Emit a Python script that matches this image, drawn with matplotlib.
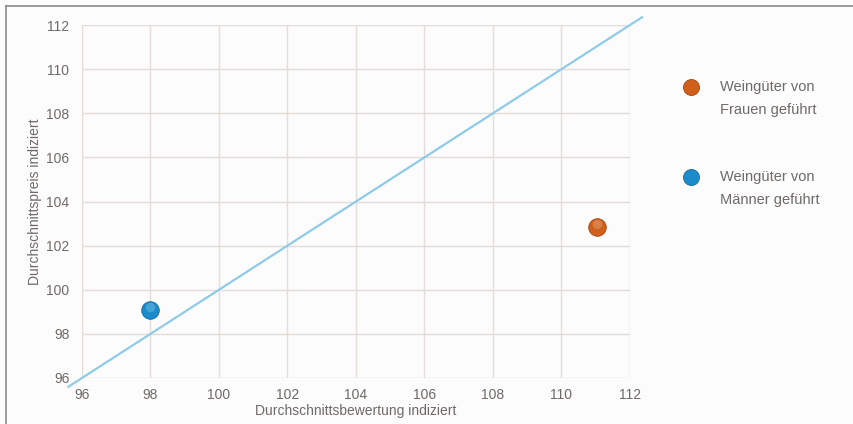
import numpy as np
import matplotlib.pyplot as plt
from matplotlib.lines import Line2D

# Durchschnittswerte (indiziert)
gruppen = ['Weingüter von\nFrauen geführt', 'Weingüter von\nMänner geführt']
bewertung = [111.05, 98.0]
preis = [102.85, 99.1]
farben = ['#d0601c', '#1a8ccc']
kanten = ['#a4440f', '#116aa0']

# Winkelhalbierende Preis = Bewertung
diag = [95.6, 112.35]

ticks = [96, 98, 100, 102, 104, 106, 108, 110, 112]

plt.rcParams['font.family'] = ['Liberation Sans', 'DejaVu Sans']
textfarbe = '#6f6a68'

fig = plt.figure(figsize=(8.54, 4.24), dpi=100)
fig.patch.set_facecolor('#fcfcfc')
ax = fig.add_axes([0.096, 0.1085, 0.6417, 0.8325])
ax.set_facecolor('#fcfcfc')

ax.set_xlim(96, 112)
ax.set_ylim(96, 112)
ax.set_xticks(ticks)
ax.set_yticks(ticks)
ax.grid(True, color='#e4dcd8', lw=1.0)
ax.set_axisbelow(True)
for s in ax.spines.values():
    s.set_visible(False)
ax.tick_params(axis='x', length=0, labelsize=10, colors=textfarbe, pad=7)
ax.tick_params(axis='y', length=0, labelsize=10, colors=textfarbe, pad=9)

ax.plot(diag, diag, color='#8fcbe8', lw=1.6, clip_on=False, zorder=2)

# Kugeln mit einfachem Glanzpunkt
for x, y, c, k in zip(bewertung, preis, farben, kanten):
    ax.scatter([x], [y], s=160, color=c, edgecolor=k, lw=0.6, zorder=3)
    ax.scatter([x], [y + 0.12], s=45, color='white', alpha=0.2, lw=0, zorder=4)

ax.set_xlabel('Durchschnittsbewertung indiziert', fontsize=10, color=textfarbe, labelpad=2)
ax.set_ylabel('Durchschnittspreis indiziert', fontsize=10, color=textfarbe, labelpad=3)

# Legende rechts neben dem Diagramm
legende_marker = [0.795, 0.583]
legende_text = [0.768, 0.555]
for g, c, k, my, ty in zip(gruppen, farben, kanten, legende_marker, legende_text):
    fig.add_artist(Line2D([0.809], [my], marker='o', ms=11.5, color=c, mec=k, mew=0.6))
    fig.text(0.843, ty, g, fontsize=10.5, color=textfarbe, va='center', ha='left', linespacing=1.78)

# Rahmen oben und links
fig.add_artist(Line2D([0.007, 1.0], [0.986, 0.986], color='#8a8a8a', lw=1.2))
fig.add_artist(Line2D([0.007, 0.007], [0.0, 0.986], color='#8a8a8a', lw=1.2))

fig.savefig('out.png', dpi=100, facecolor=fig.get_facecolor())
